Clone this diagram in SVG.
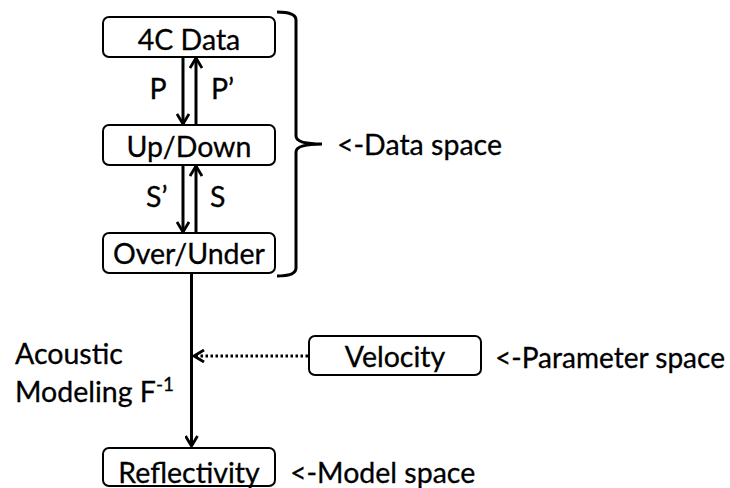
<svg xmlns="http://www.w3.org/2000/svg" width="730" height="488" viewBox="0 0 730 488">
<style>
.box{fill:#fff;stroke:#000;stroke-width:2}
.t{font-family:Lato,"Liberation Sans",sans-serif;font-size:28.5px;fill:#000;stroke:#000;stroke-width:0.3}
.c{text-anchor:middle}
.ln{stroke:#000;stroke-width:3;fill:none}
.dot{stroke:#000;stroke-width:3;fill:none;stroke-dasharray:2.5 2.5}
</style>
<defs>
<marker id="ah" markerUnits="userSpaceOnUse" viewBox="0 0 14 14" refX="12" refY="7" markerWidth="14" markerHeight="14" orient="auto">
<path d="M2,1 L12,7 L2,13" fill="none" stroke="#000" stroke-width="2.8"/>
</marker>
</defs>
<g id="connectors">
<line class="ln" x1="183" y1="57" x2="183" y2="124" marker-end="url(#ah)"/>
<line class="ln" x1="196" y1="125" x2="196" y2="58" marker-end="url(#ah)"/>
<line class="ln" x1="183" y1="165" x2="183" y2="232" marker-end="url(#ah)"/>
<line class="ln" x1="196" y1="233" x2="196" y2="166" marker-end="url(#ah)"/>
<line class="ln" x1="191.5" y1="273" x2="191.5" y2="446" marker-end="url(#ah)"/>
<line class="dot" x1="308" y1="356" x2="194" y2="356" marker-end="url(#ah)"/>
<path class="ln" stroke-width="2" d="M277,12 Q296,12 296,20 L296,136 Q296,144 322,144 Q296,144 296,152 L296,268 Q296,276 277,276"/>
</g>
<g id="n4c"><rect class="box" x="103" y="17" width="172" height="40" rx="6"/><text class="t c" x="189" y="50">4C Data</text></g>
<g id="nupdown"><rect class="box" x="103" y="125" width="172" height="40" rx="6"/><text class="t c" x="189" y="157">Up/Down</text></g>
<g id="nover"><rect class="box" x="103" y="233" width="172" height="40" rx="6"/><text class="t c" x="189" y="264">Over/Under</text></g>
<g id="nvel"><rect class="box" x="309" y="336" width="172" height="39" rx="6"/><text class="t c" x="395" y="367">Velocity</text></g>
<g id="nrefl"><rect class="box" x="103" y="448" width="172" height="38" rx="6"/><text class="t c" x="189" y="483">Reflectivity</text></g>
<g id="labels">
<text class="t c" x="158" y="99">P</text>
<text class="t" x="211" y="99">P’</text>
<text class="t" x="146" y="207">S’</text>
<text class="t" x="210" y="207">S</text>
<text class="t" x="15" y="364">Acoustic</text>
<text class="t" x="15" y="402">Modeling F<tspan font-size="19" dy="-11">-1</tspan></text>
<text class="t" x="337" y="155">&lt;-Data space</text>
<text class="t" x="495" y="368" textLength="230" lengthAdjust="spacingAndGlyphs">&lt;-Parameter space</text>
<text class="t" x="290" y="483">&lt;-Model space</text>
</g>
</svg>
